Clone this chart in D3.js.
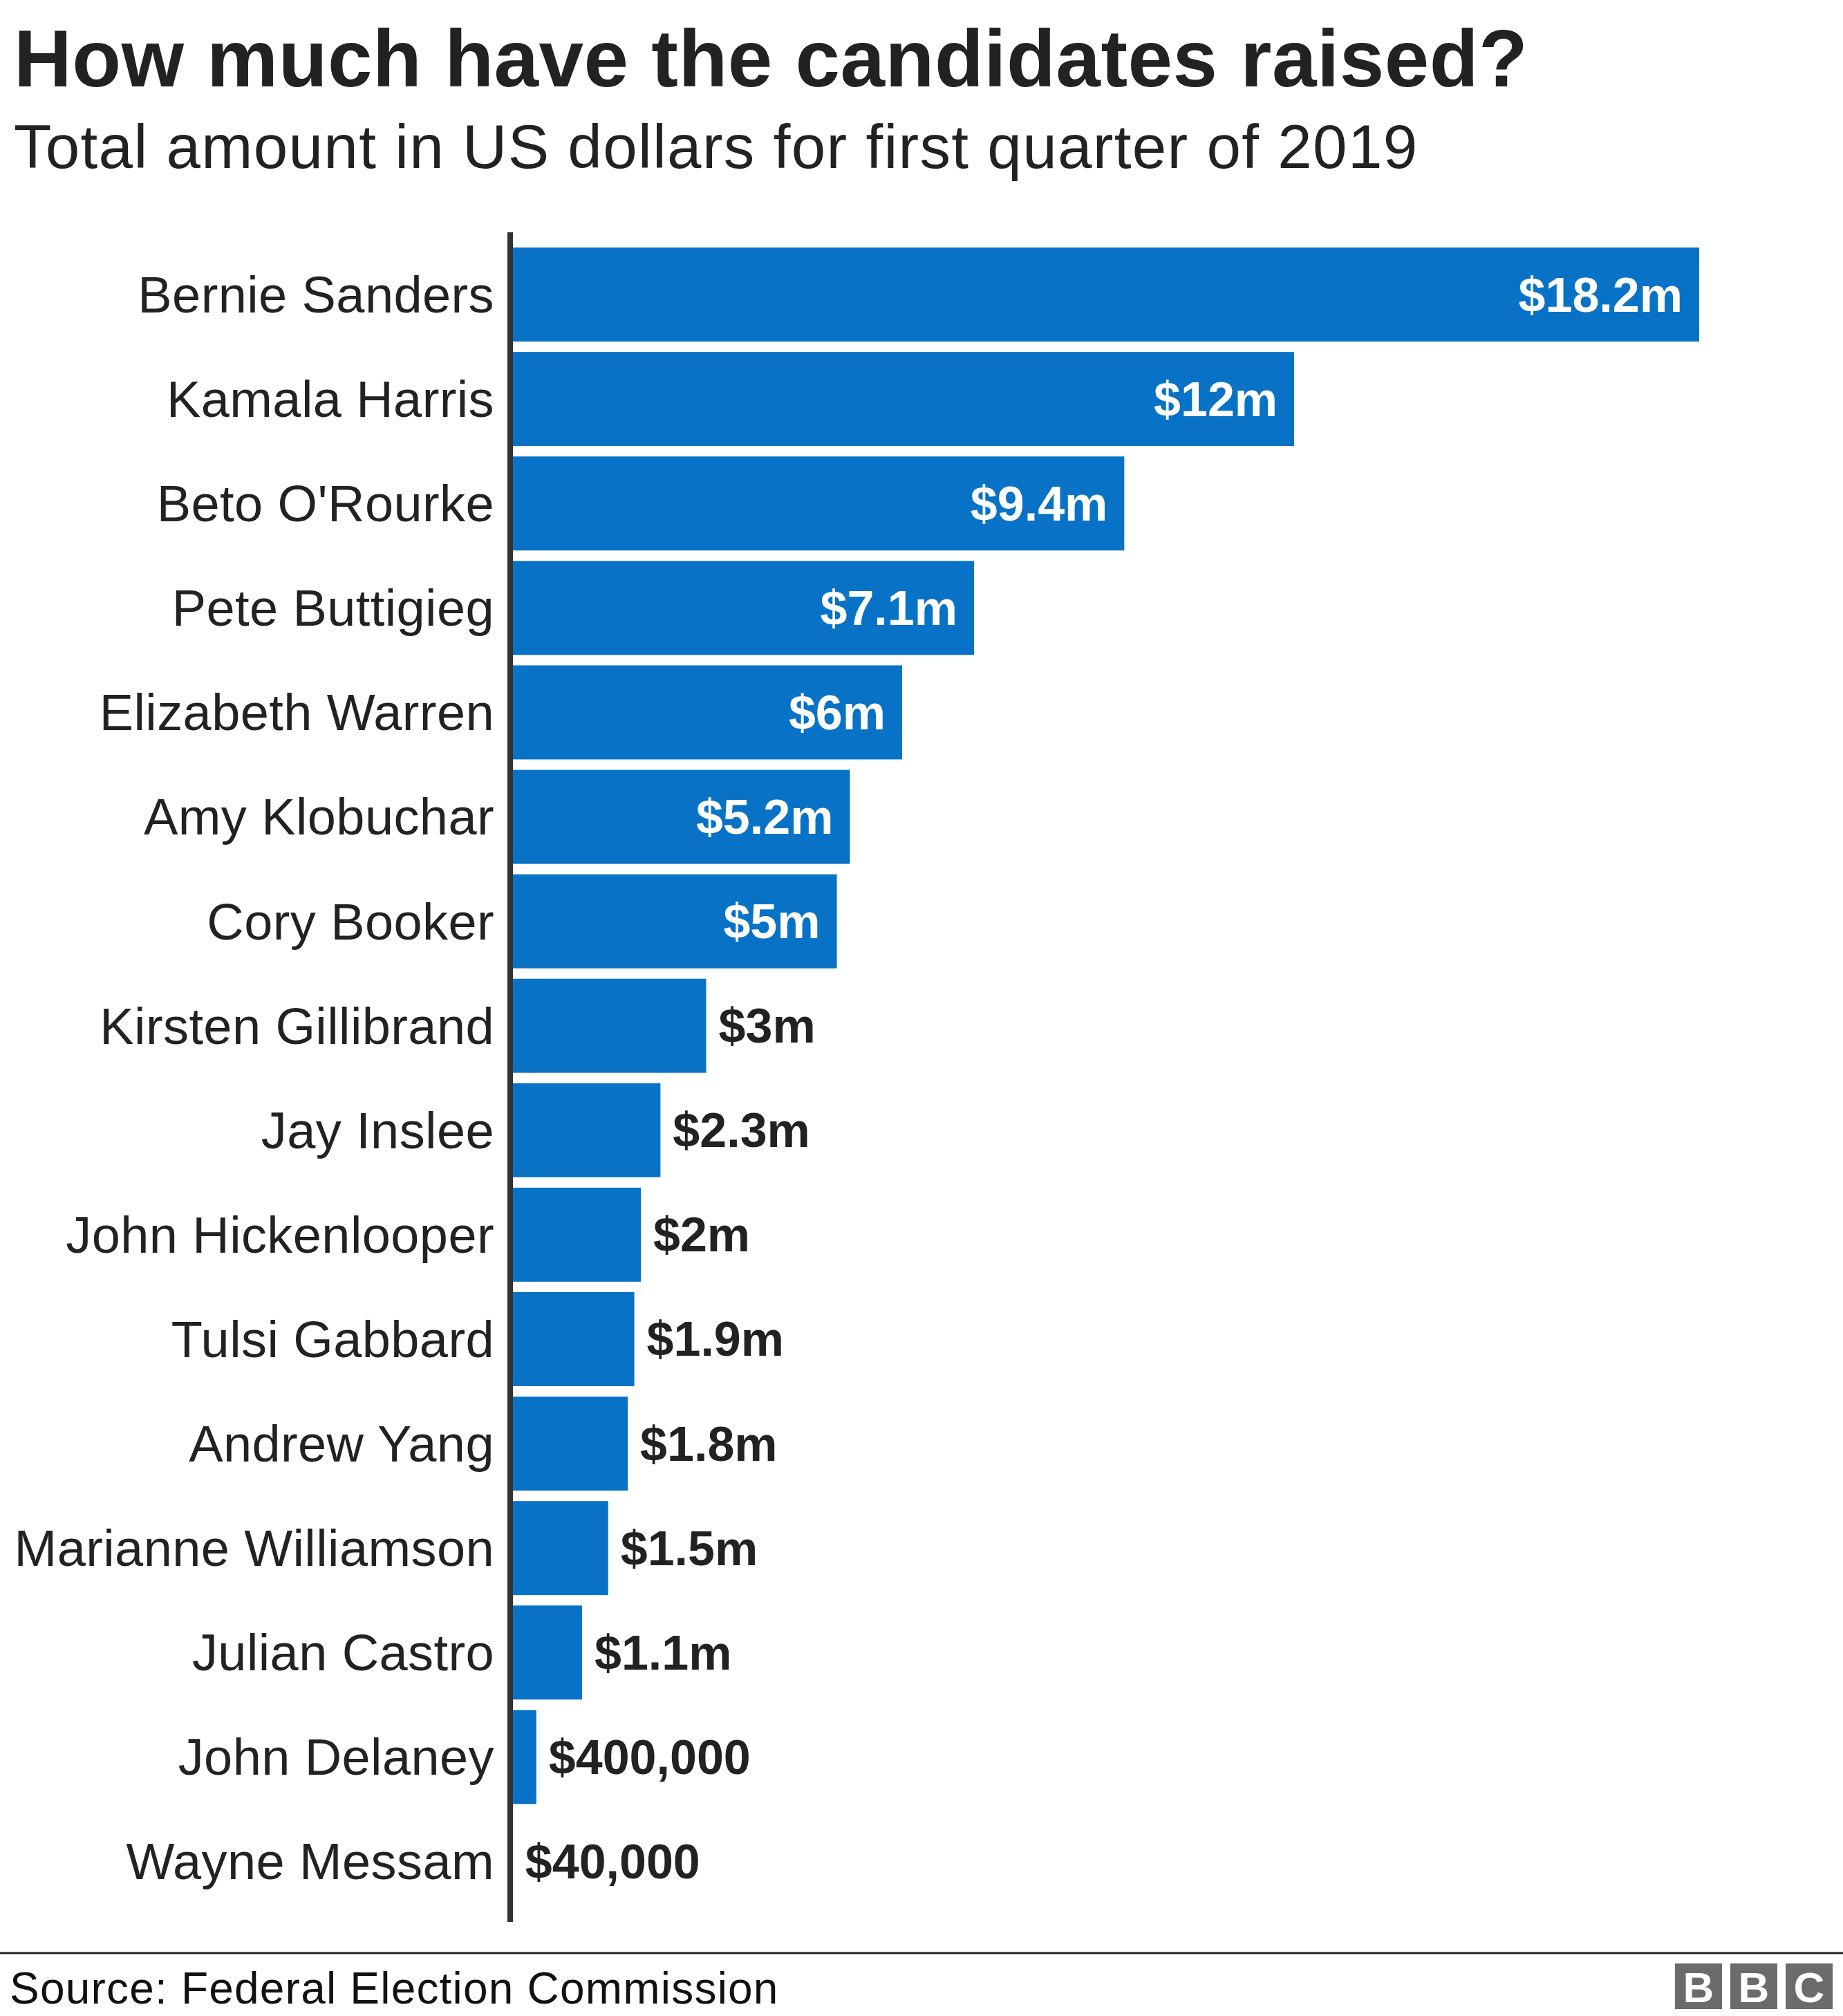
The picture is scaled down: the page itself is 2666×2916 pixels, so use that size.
<!DOCTYPE html>
<html>
<head>
<meta charset="utf-8">
<script src="https://cdn.jsdelivr.net/npm/d3@7"></script>
<style>
  body { margin: 0; background: #fff; }
  svg { display: block; font-family: "Liberation Sans", Arial, Helvetica, sans-serif; }
</style>
</head>
<body>
<script>
// Chart size
const width = 2666;
const height = 2916;

// Data (US dollars, millions)
const candidates = [
  "Bernie Sanders", "Kamala Harris", "Beto O'Rourke", "Pete Buttigieg",
  "Elizabeth Warren", "Amy Klobuchar", "Cory Booker", "Kirsten Gillibrand",
  "Jay Inslee", "John Hickenlooper", "Tulsi Gabbard", "Andrew Yang",
  "Marianne Williamson", "Julian Castro", "John Delaney", "Wayne Messam"
];
const amounts = [18.2, 12, 9.4, 7.1, 6, 5.2, 5, 3, 2.3, 2, 1.9, 1.8, 1.5, 1.1, 0.4, 0.04];
const amountLabels = [
  "$18.2m", "$12m", "$9.4m", "$7.1m", "$6m", "$5.2m", "$5m", "$3m",
  "$2.3m", "$2m", "$1.9m", "$1.8m", "$1.5m", "$1.1m", "$400,000", "$40,000"
];

const data = candidates.map((name, i) => ({ name, value: amounts[i], label: amountLabels[i] }));

const barColor = "#0873c6";
const textColor = "#222222";

const svg = d3.select("body")
  .append("svg")
  .attr("width", width)
  .attr("height", height);

// Title and subtitle
svg.append("text")
  .attr("x", 20)
  .attr("y", 125)
  .attr("font-size", 116)
  .attr("font-weight", "bold")
  .attr("letter-spacing", 0.5)
  .attr("fill", textColor)
  .text("How much have the candidates raised?");

svg.append("text")
  .attr("x", 20)
  .attr("y", 243)
  .attr("font-size", 89)
  .attr("letter-spacing", 1.3)
  .attr("fill", textColor)
  .text("Total amount in US dollars for first quarter of 2019");

// Scales (bars start under the axis line)
const x = d3.scaleLinear()
  .domain([0, 18.2])
  .range([738, 2458]);

const y = d3.scaleBand()
  .domain(candidates)
  .range([350.5, 2768])
  .paddingInner(0.1)
  .paddingOuter(0.05);

// Bars
svg.selectAll(".bar")
  .data(data)
  .enter()
  .append("rect")
  .attr("class", "bar")
  .attr("x", x(0))
  .attr("y", d => y(d.name))
  .attr("width", d => x(d.value) - x(0))
  .attr("height", y.bandwidth())
  .attr("fill", barColor);

// Axis line on the left of the bars
svg.append("line")
  .attr("x1", 738)
  .attr("x2", 738)
  .attr("y1", 336)
  .attr("y2", 2780)
  .attr("stroke", "#333")
  .attr("stroke-width", 8);

// Category labels
svg.selectAll(".name")
  .data(data)
  .enter()
  .append("text")
  .attr("class", "name")
  .attr("x", 715)
  .attr("y", d => y(d.name) + y.bandwidth() / 2)
  .attr("dy", "0.35em")
  .attr("text-anchor", "end")
  .attr("font-size", 74)
  .attr("letter-spacing", 0.4)
  .attr("fill", textColor)
  .text(d => d.name);

// Value labels: inside the bar when there is room, outside otherwise
const inside = d => d.value >= 5;

svg.selectAll(".value")
  .data(data)
  .enter()
  .append("text")
  .attr("class", "value")
  .attr("x", d => inside(d) ? x(d.value) - 24 : x(d.value) + 18)
  .attr("y", d => y(d.name) + y.bandwidth() / 2)
  .attr("dy", "0.35em")
  .attr("text-anchor", d => inside(d) ? "end" : "start")
  .attr("font-size", 70)
  .attr("font-weight", "bold")
  .attr("fill", d => inside(d) ? "#fff" : textColor)
  .text(d => d.label);

// Footer
svg.append("line")
  .attr("x1", 0)
  .attr("x2", width)
  .attr("y1", 2825)
  .attr("y2", 2825)
  .attr("stroke", "#222")
  .attr("stroke-width", 3);

svg.append("text")
  .attr("x", 14)
  .attr("y", 2898)
  .attr("font-size", 64)
  .attr("letter-spacing", 1.2)
  .attr("fill", "#111")
  .text("Source: Federal Election Commission");

// BBC blocks
const logo = svg.append("g").attr("transform", "translate(2423,2840)");
["B", "B", "C"].forEach((letter, i) => {
  logo.append("rect")
    .attr("x", i * 80)
    .attr("y", 0)
    .attr("width", 68)
    .attr("height", 66)
    .attr("fill", "#6b6b6b");
  logo.append("text")
    .attr("x", i * 80 + 34)
    .attr("y", 56)
    .attr("text-anchor", "middle")
    .attr("font-size", 62)
    .attr("font-weight", "bold")
    .attr("fill", "#fff")
    .text(letter);
});
</script>
</body>
</html>
